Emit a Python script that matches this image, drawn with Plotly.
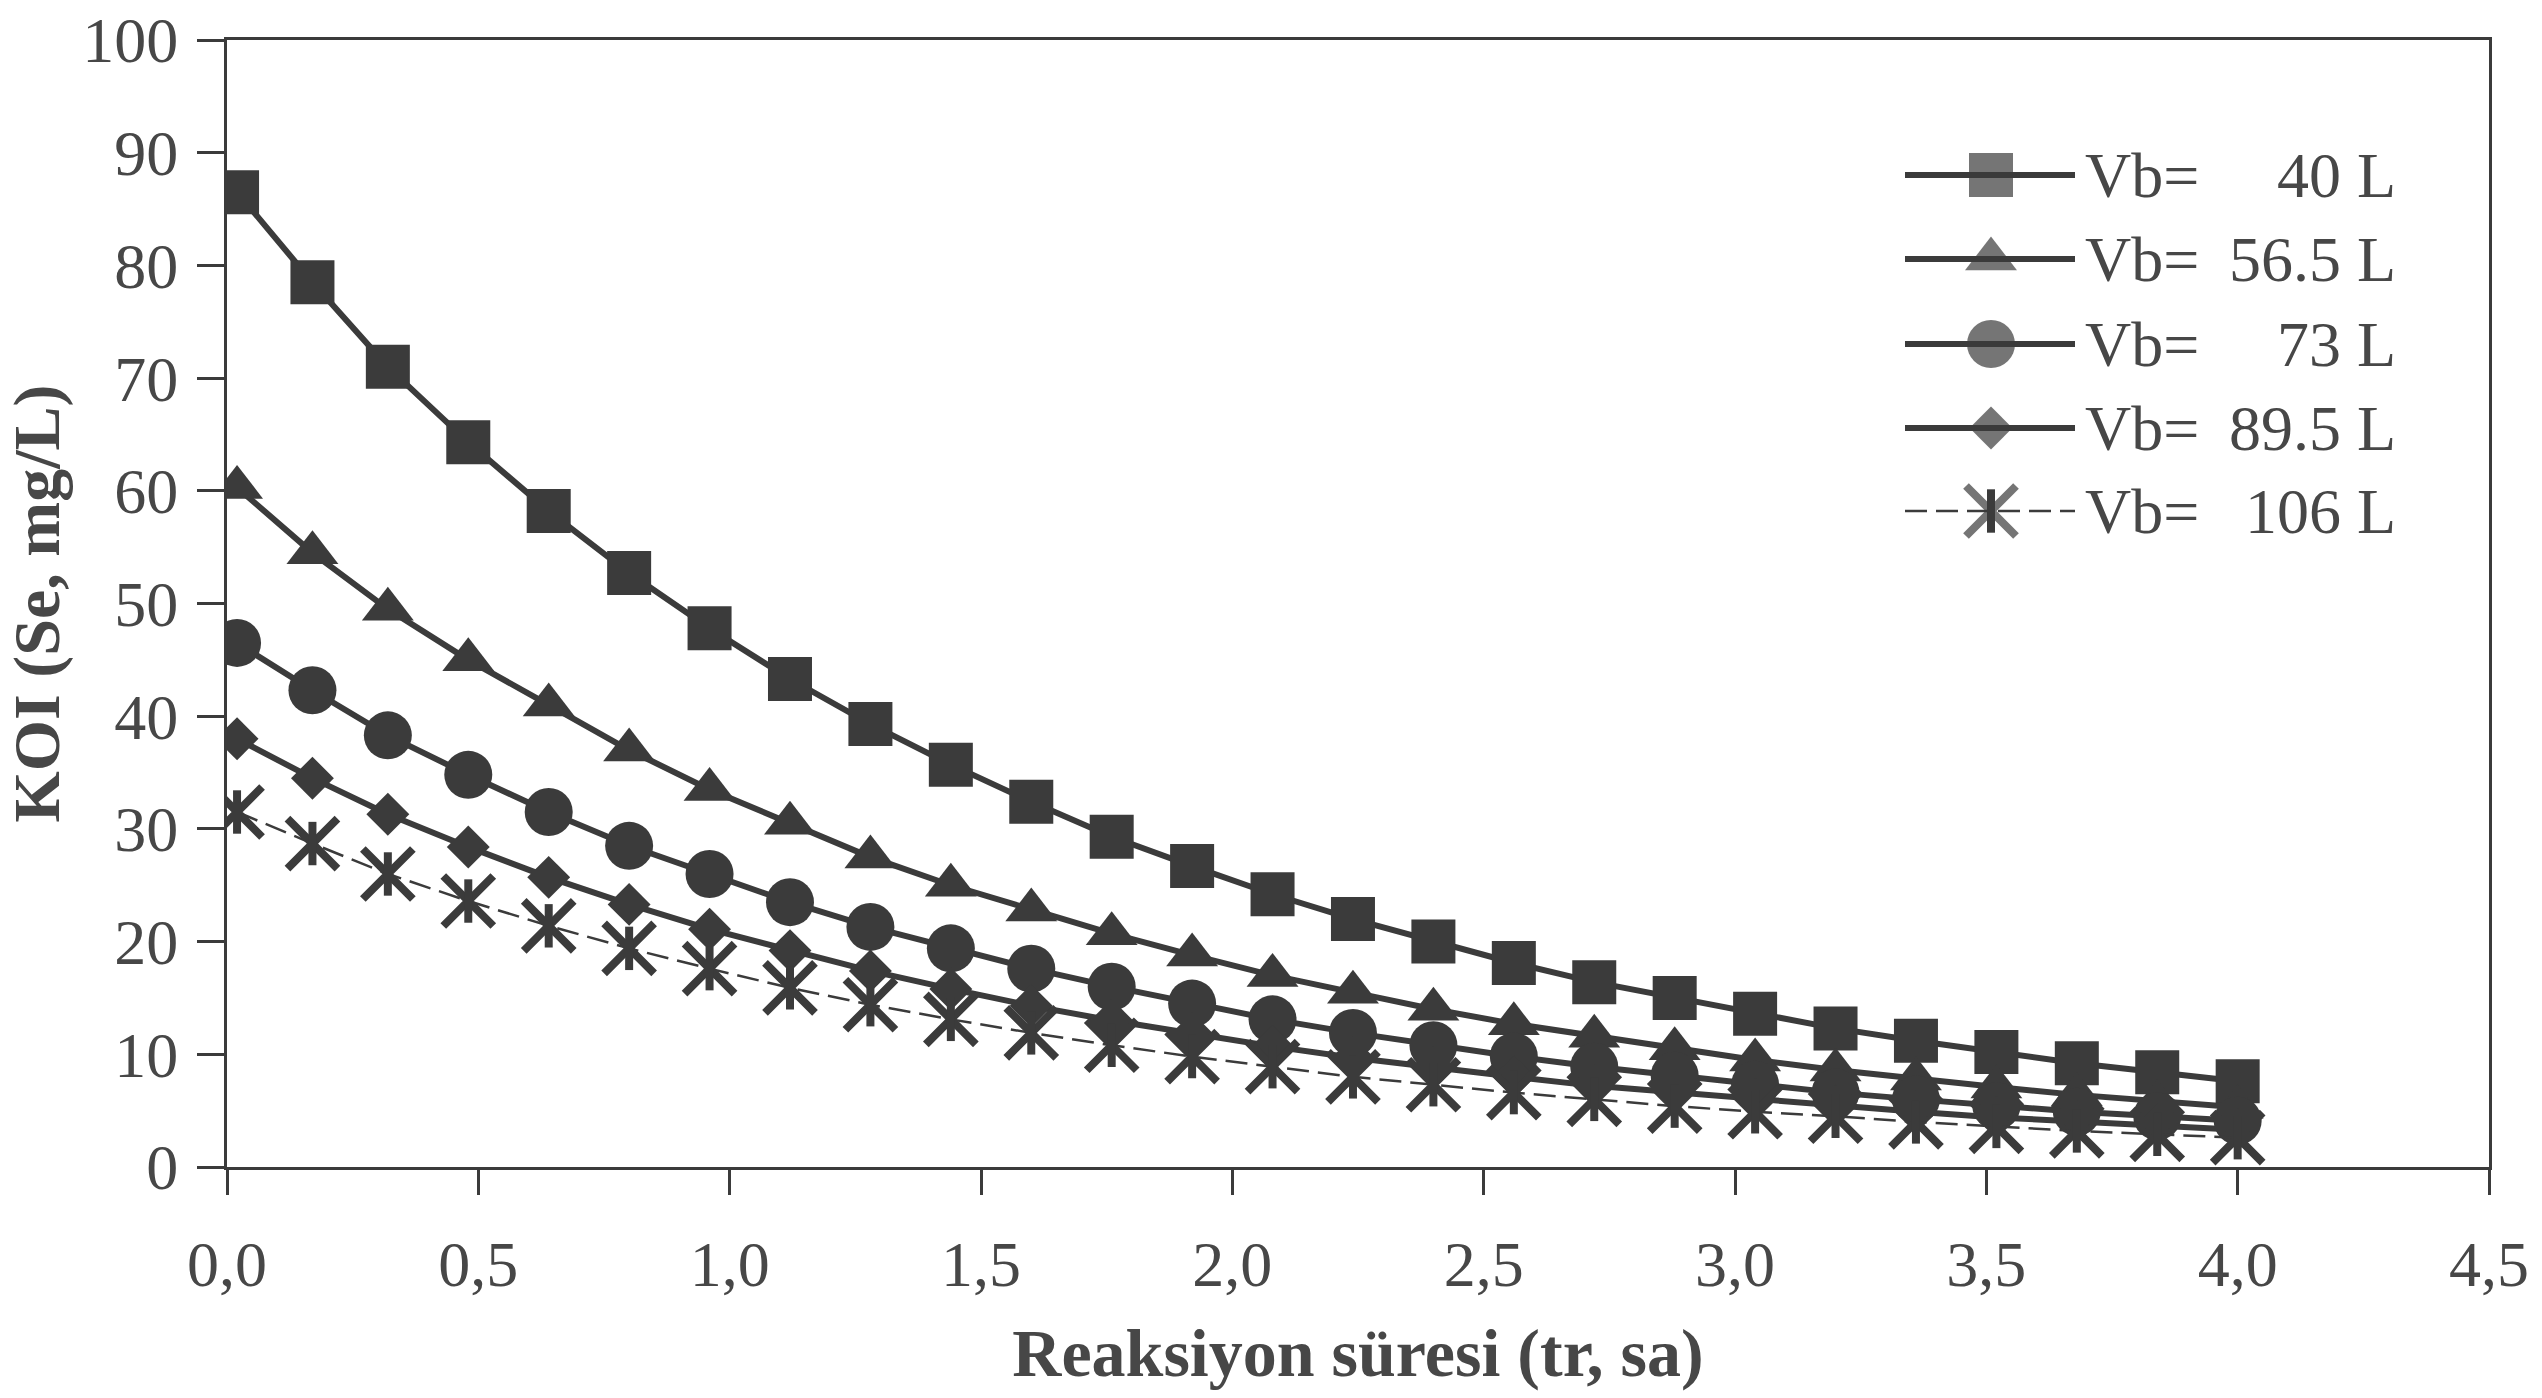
import plotly.graph_objects as go

# ---- data ----
time_h = [0.02, 0.17, 0.32, 0.48, 0.64, 0.80, 0.96, 1.12, 1.28, 1.44, 1.60, 1.76, 1.92,
          2.08, 2.24, 2.40, 2.56, 2.72, 2.88, 3.04, 3.20, 3.36, 3.52, 3.68, 3.84, 4.00]
koi_vb40 = [86.5, 78.5, 71.0, 64.3, 58.2, 52.7, 47.8, 43.3, 39.3, 35.7, 32.4, 29.3, 26.7,
            24.2, 22.0, 20.0, 18.1, 16.4, 15.0, 13.6, 12.3, 11.2, 10.2, 9.2, 8.4, 7.6]
koi_vb56 = [60.3, 54.5, 49.5, 45.0, 41.0, 37.0, 33.5, 30.5, 27.5, 25.0, 22.8, 20.7, 18.8,
            17.0, 15.5, 14.0, 12.7, 11.6, 10.5, 9.5, 8.6, 7.8, 7.1, 6.4, 5.8, 5.3]
koi_vb73 = [46.5, 42.3, 38.3, 34.8, 31.5, 28.5, 26.0, 23.5, 21.3, 19.4, 17.6, 16.0, 14.5,
            13.1, 11.9, 10.8, 9.8, 8.9, 8.1, 7.3, 6.6, 6.0, 5.4, 4.9, 4.5, 4.1]
koi_vb89 = [38.0, 34.5, 31.3, 28.4, 25.7, 23.3, 21.1, 19.2, 17.4, 15.8, 14.3, 13.0, 11.8,
            10.7, 9.7, 8.8, 8.0, 7.2, 6.6, 6.0, 5.4, 4.9, 4.4, 4.0, 3.7, 3.3]
koi_vb106 = [31.5, 28.7, 26.0, 23.6, 21.4, 19.4, 17.6, 15.9, 14.4, 13.1, 11.9, 10.8, 9.8,
             8.9, 8.0, 7.3, 6.6, 6.0, 5.4, 4.9, 4.5, 4.0, 3.6, 3.2, 2.9, 2.6]

vb_labels = ["40 L", "56.5 L", "73 L", "89.5 L", "106 L"]
x_tick_vals = [0.0, 0.5, 1.0, 1.5, 2.0, 2.5, 3.0, 3.5, 4.0, 4.5]
x_tick_text = ["0,0", "0,5", "1,0", "1,5", "2,0", "2,5", "3,0", "3,5", "4,0", "4,5"]
y_tick_vals = [0, 10, 20, 30, 40, 50, 60, 70, 80, 90, 100]

# ---- layout constants ----
W, H = 2542, 1398
ML, MR, MT, MB = 227, 53, 40, 231
PW, PH = W - ML - MR, H - MT - MB
INK = "#3b3b3b"
TXT = "#474747"
FONT = "Liberation Serif"


def fx(px):
    return (px - ML) / PW


def fy(py):
    return (H - MB - py) / PH


series = [koi_vb40, koi_vb56, koi_vb73, koi_vb89, koi_vb106]
styles = [
    dict(symbol="square", size=44, line=dict(width=6, color=INK)),
    dict(symbol="triangle-up", size=45, line=dict(width=6, color=INK)),
    dict(symbol="circle", size=48, line=dict(width=6, color=INK)),
    dict(symbol="diamond", size=33, line=dict(width=6, color=INK)),
    dict(symbol="x-thin-open", size=50, line=dict(width=2.5, color=INK, dash="22px,9px")),
]

fig = go.Figure()
for vals, st, lab in zip(series, styles, vb_labels):
    is_star = st["symbol"].startswith("x-thin")
    marker = dict(symbol=st["symbol"], size=st["size"], color=INK)
    marker["line"] = dict(width=8 if is_star else 0, color=INK)
    fig.add_trace(go.Scatter(x=time_h, y=vals, mode="lines+markers", name="Vb= " + lab,
                             line=st["line"], marker=marker, showlegend=False))
    if is_star:
        fig.add_trace(go.Scatter(x=time_h, y=vals, mode="markers", showlegend=False,
                                 marker=dict(symbol="line-ns-open", size=31, color=INK,
                                             line=dict(width=8, color=INK))))

# ---- custom legend (drawn in plot-area fraction coordinates) ----
row_px = [175, 259, 344, 428, 511]
lx0, lxm, lx1 = fx(1905), fx(1991), fx(2075)
for st, lab, rp in zip(styles, vb_labels, row_px):
    yy = fy(rp)
    is_star = st["symbol"].startswith("x-thin")
    marker = dict(symbol=st["symbol"], size=[0, st["size"], 0], color=INK)
    marker["line"] = dict(width=8 if is_star else 0, color=INK)
    fig.add_trace(go.Scatter(x=[lx0, lxm, lx1], y=[yy, yy, yy], mode="lines+markers",
                             xaxis="x2", yaxis="y2", line=st["line"], marker=marker,
                             showlegend=False, hoverinfo="skip"))
    if is_star:
        fig.add_trace(go.Scatter(x=[lxm], y=[yy], mode="markers", xaxis="x2", yaxis="y2",
                                 marker=dict(symbol="line-ns-open", size=31, color=INK,
                                             line=dict(width=8, color=INK)),
                                 showlegend=False, hoverinfo="skip"))
    fig.add_annotation(x=fx(2083), y=yy, xref="paper", yref="paper", text="Vb=",
                       showarrow=False, xanchor="left", yanchor="middle",
                       font=dict(family=FONT, size=64, color=TXT))
    fig.add_annotation(x=fx(2398), y=yy, xref="paper", yref="paper", text=lab,
                       showarrow=False, xanchor="right", yanchor="middle",
                       font=dict(family=FONT, size=64, color=TXT))

axis_common = dict(showline=True, linewidth=3, linecolor=INK, mirror=True,
                   ticks="outside", tickwidth=3, tickcolor=INK, showgrid=False,
                   zeroline=False, automargin=False,
                   tickfont=dict(family=FONT, size=64, color=TXT))

fig.update_layout(
    width=W, height=H,
    margin=dict(l=ML, r=MR, t=MT, b=MB),
    paper_bgcolor="white", plot_bgcolor="white",
    showlegend=False,
    xaxis=dict(range=[0, 4.5], tickvals=x_tick_vals, ticktext=x_tick_text, ticklen=25,
               ticklabelstandoff=14,
               title=dict(text="<b>Reaksiyon süresi (tr, sa)</b>", standoff=30,
                          font=dict(family=FONT, size=68, color=TXT)),
               **axis_common),
    yaxis=dict(range=[0, 100], tickvals=y_tick_vals, ticklen=27, ticklabelstandoff=6,
               title=dict(text="<b>KOI (Se, mg/L)</b>", standoff=2,
                          font=dict(family=FONT, size=66, color=TXT)),
               **axis_common),
    xaxis2=dict(domain=[0, 1], range=[0, 1], visible=False, anchor="y2", overlaying="x"),
    yaxis2=dict(domain=[0, 1], range=[0, 1], visible=False, anchor="x2", overlaying="y"),
)

fig.write_html("out.html", config={"displayModeBar": False},
               post_script="document.body.style.margin='0';")
